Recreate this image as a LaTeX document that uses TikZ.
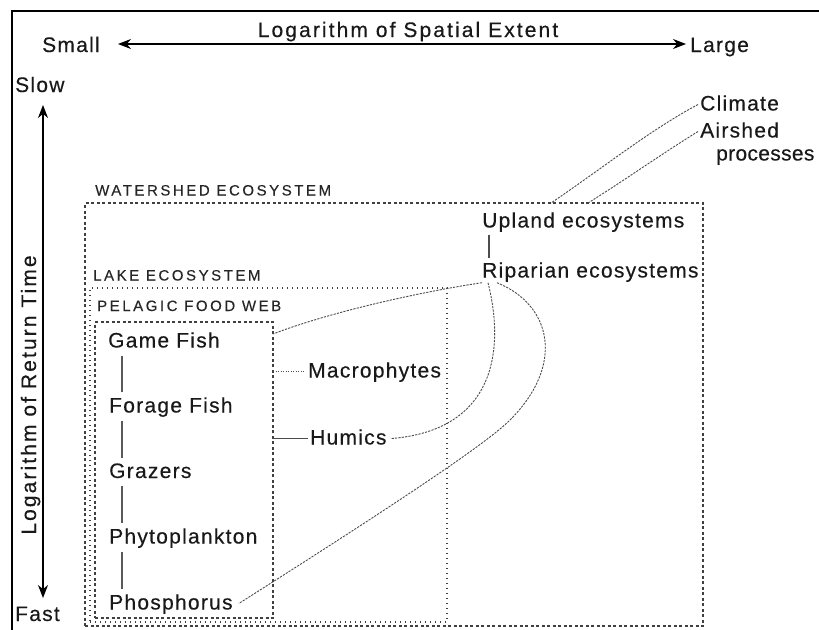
\documentclass[tikz,border=0pt]{standalone}
\usepackage{fontspec}
\setmainfont{Liberation Sans}
\newfontfamily\lblfont[LetterSpace=6,FakeBold=0.3]{Liberation Sans}
\newfontfamily\tightfont[LetterSpace=1.5,FakeBold=0.3]{Liberation Sans}
\newfontfamily\axfont[LetterSpace=10,FakeBold=0.3]{Liberation Sans}
\newfontfamily\hdfont[LetterSpace=17,FakeBold=0.2]{Liberation Sans}
\usetikzlibrary{arrows.meta}
\begin{document}
\begin{tikzpicture}[x=1pt,y=-1pt,
  lbl/.style={inner sep=0pt, anchor=base west, text=black!90,
    font=\lblfont\fontsize{21}{21}\selectfont, text height=16pt, text depth=4pt},
  axlbl/.style={inner sep=0pt, text=black!90,
    font=\axfont\fontsize{21}{21}\selectfont, text height=16pt, text depth=4pt},
  hdlbl/.style={inner sep=0pt, anchor=base west, text=black!85,
    font=\hdfont\fontsize{15}{15}\selectfont},
  axarrow/.style={line width=1.1pt, {Stealth[length=13pt,width=10pt]}-{Stealth[length=13pt,width=10pt]}},
  boxnode/.style={inner sep=0pt, outer sep=0pt, rectangle},
  wsbox/.style={boxnode, draw=black!75, line width=1.1pt, dash pattern=on 3pt off 2.5pt},
  lkbox/.style={boxnode, draw=black!75, line width=1.1pt, dash pattern=on 1.2pt off 3.8pt},
  plbox/.style={boxnode, draw=black!75, line width=1.1pt, dash pattern=on 3pt off 2.5pt},
  fwlink/.style={draw=black!65, line width=1.2pt, shorten <=4pt, shorten >=4pt},
  solidlink/.style={draw=black!70, line width=1.2pt},
  dotlink/.style={draw=black!70, line width=1pt, dash pattern=on 1pt off 1.5pt},
  cv/.style={draw=black!70, line width=0.9pt, dash pattern=on 2.2pt off 1.2pt}
]
\useasboundingbox (0,0) rectangle (819,629);
\clip (0,0) rectangle (819,629);
\fill[white] (0,0) rectangle (819,629);

% frame
\draw[line width=2.5pt] (12,640) -- (12,11) -- (830,11);

% axes
\node[axlbl, anchor=base] (xl) at (408,37) {Logarithm of Spatial Extent};
\node[lbl] (sm) at (42,52) {Small};
\node[lbl] (lg) at (690,52) {Large};
\coordinate (xa) at (118,44);
\coordinate (xb) at (686,44);
\draw[axarrow] (xa) -- (xb);

\node[lbl] (slow) at (15,92) {Slow};
\node[lbl] (fast) at (15,621) {Fast};
\coordinate (ya) at (43,105);
\coordinate (yb) at (43,598);
\draw[axarrow] (ya) -- (yb);
\node[axlbl, anchor=base, rotate=90] (yl) at (36,395) {Logarithm of Return Time};

% boxes
\node[wsbox, minimum width=618pt, minimum height=423pt] (ws) at (394,414.5) {};
\node[lkbox, minimum width=357pt, minimum height=334pt] (lk) at (268.5,455) {};
\node[plbox, minimum width=178pt, minimum height=296pt] (pl) at (184,470) {};

\node[hdlbl] (wsl) at (95,195.5) {WATERSHED ECOSYSTEM};
\node[hdlbl] (lkl) at (93,280.5) {LAKE ECOSYSTEM};
\node[hdlbl] (pll) at (97,311) {PELAGIC FOOD WEB};

% food web
\node[lbl] (gf) at (108,347.5) {Game Fish};
\node[lbl] (ff) at (109,412.5) {Forage Fish};
\node[lbl] (gr) at (109,478) {Grazers};
\node[lbl] (ph) at (109,543.5) {Phytoplankton};
\node[lbl] (po) at (109,609.5) {Phosphorus};
\draw[fwlink] ([xshift=13pt]ff.north west) -- ([xshift=14pt]gf.south west);
\draw[fwlink] ([xshift=13pt]ff.south west) -- ([xshift=13pt]gr.north west);
\draw[fwlink] ([xshift=13pt]gr.south west) -- ([xshift=13pt]ph.north west);
\draw[fwlink] ([xshift=13pt]ph.south west) -- ([xshift=13pt]po.north west);

\node[lbl] (mac) at (308,377.5) {Macrophytes};
\node[lbl] (hum) at (310,444.5) {Humics};
\draw[dotlink] (pl.east |- mac.west) -- ([xshift=-4pt]mac.west);
\draw[solidlink] (pl.east |- hum.west) -- ([xshift=-2pt]hum.west);

\node[lbl] (up) at (482,227.5) {Upland ecosystems};
\node[lbl] (rip) at (482,277.5) {Riparian ecosystems};
\draw[solidlink, shorten <=3pt, shorten >=3pt] ([xshift=7pt]up.south west) -- ([xshift=7pt]rip.north west);

\node[lbl] (cl) at (700,110.5) {Climate};
\node[lbl] (air) at (700,137.5) {Airshed};
\node[lbl, font=\tightfont\fontsize{21}{21}\selectfont] (proc) at (716,160.5) {processes};

% dashed influence curves
\coordinate (wsc) at (551,203);
\coordinate (wsa) at (588,203);
\draw[cv] ([xshift=-2pt]cl.west) .. controls (650,130) and (600,170) .. (wsc);
\draw[cv] ([xshift=-2pt]air.west) .. controls (660,155) and (625,180) .. (wsa);

\coordinate (gfe) at (273,334);
\draw[cv] ([yshift=-1pt]rip.south west) .. controls (420,292) and (330,312) .. (gfe);
\draw[cv] ([xshift=6pt,yshift=-1pt]rip.south west) .. controls (505,350) and (495,430) .. ([xshift=5pt]hum.east);
\draw[cv] ([xshift=15pt,yshift=-1pt]rip.south west) .. controls (552,305) and (565,365) .. (510,420)
   .. controls (488,442) and (410,495) .. ([xshift=6pt]po.east);
\end{tikzpicture}
\end{document}
